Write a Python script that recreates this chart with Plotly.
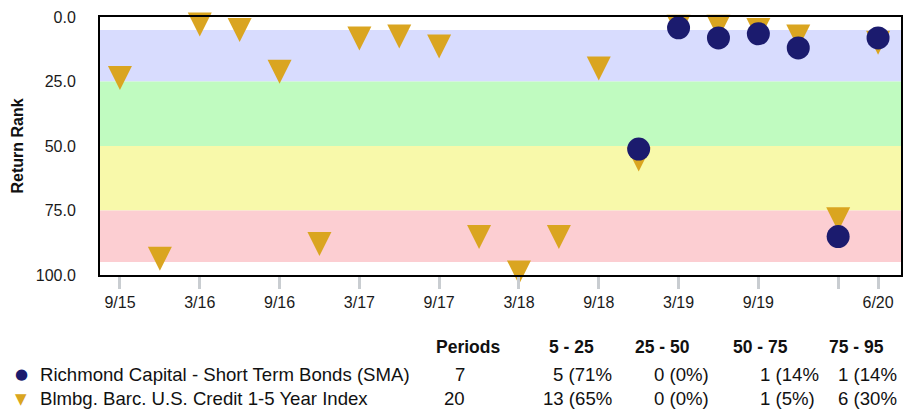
import plotly.graph_objects as go

# quarter-end periods, oldest first
periods = ["9/15", "12/15", "3/16", "6/16", "9/16", "12/16", "3/17", "6/17", "9/17", "12/17",
           "3/18", "6/18", "9/18", "12/18", "3/19", "6/19", "9/19", "12/19", "3/20", "6/20"]

fund_name = "Richmond Capital - Short Term Bonds (SMA)"
bench_name = "Blmbg. Barc. U.S. Credit 1-5 Year Index"

fund_rank = [None, None, None, None, None, None, None, None, None, None,
             None, None, None, 51.2, 4.2, 8.1, 6.5, 12.0, 85.1, 8.1]
bench_rank = [23.6, 93.7, 2.9, 5.0, 21.2, 88.0, 8.3, 7.6, 11.4, 85.3,
              99.0, 85.3, 20.0, 55.2, 3.8, 3.8, 5.0, 7.6, 78.4, 10.0]

tick_periods = ["9/15", "3/16", "9/16", "3/17", "9/17", "3/18", "9/18", "3/19", "9/19", "3/20", "6/20"]
tick_text = ["9/15", "3/16", "9/16", "3/17", "9/17", "3/18", "9/18", "3/19", "9/19", "", "6/20"]

band_low = [5, 25, 50, 75]
band_high = [25, 50, 75, 95]
band_colors = ["#D8DCFE", "#C0FBC0", "#F8F9AA", "#FCCED2"]

table_header = ["Periods", "5 - 25", "25 - 50", "50 - 75", "75 - 95"]
fund_row = ["7", "5 (71%", "0 (0%)", "1 (14%", "1 (14%"]
bench_row = ["20", "13 (65%", "0 (0%)", "1 (5%)", "6 (30%"]

FUND_COLOR = "#1b1b6e"
BENCH_COLOR = "#DAA520"
FONT = "Liberation Sans, Arial, sans-serif"

W, H = 906, 410
L, R, T, B = 100, 3, 17, 135
PW, PH = W - L - R, H - T - B


def px_x(x):
    return (x - L) / PW


def px_y(y):
    return (H - B - y) / PH


fig = go.Figure()

fig.add_trace(go.Scatter(
    x=periods, y=bench_rank, mode="markers", name=bench_name,
    marker=dict(symbol="arrow-down", size=24, standoff=12, color=BENCH_COLOR, line=dict(width=0)),
    cliponaxis=False, showlegend=False,
))
fig.add_trace(go.Scatter(
    x=periods, y=fund_rank, mode="markers", name=fund_name,
    marker=dict(symbol="circle", size=23, color=FUND_COLOR, line=dict(width=0)),
    cliponaxis=False, showlegend=False,
))

# percentile bands
for lo, hi, c in zip(band_low, band_high, band_colors):
    fig.add_shape(type="rect", xref="paper", yref="y", x0=0, x1=1, y0=lo, y1=hi,
                  fillcolor=c, line=dict(width=0), layer="below")

# table under the chart
ROW_Y = [347, 374, 398]
anns = []
header_x = [503, 597, 693, 792, 888]
for txt, x in zip(table_header, header_x):
    anns.append(dict(text="<b>%s</b>" % txt, x=px_x(x), y=px_y(ROW_Y[0]), xanchor="right",
                     font=dict(size=17.5, color="#111", family=FONT)))

cell_x = [(468, "right"), (615, "right"), (653, "left"), (760, "left"), (838, "left")]
for row, yy in [(fund_row, ROW_Y[1]), (bench_row, ROW_Y[2])]:
    for txt, (x, anc) in zip(row, cell_x):
        anns.append(dict(text=txt, x=px_x(x), y=px_y(yy), xanchor=anc))

anns.append(dict(text="●", x=px_x(21), y=px_y(ROW_Y[1]), xanchor="center",
                 font=dict(color=FUND_COLOR, size=15, family="DejaVu Sans")))
anns.append(dict(text=fund_name, x=px_x(38), y=px_y(ROW_Y[1]), xanchor="left"))
anns.append(dict(text="▼", x=px_x(21), y=px_y(ROW_Y[2] + 1), xanchor="center",
                 font=dict(color=BENCH_COLOR, size=15, family="DejaVu Sans")))
anns.append(dict(text=bench_name, x=px_x(38), y=px_y(ROW_Y[2]), xanchor="left"))

for a in anns:
    a.update(xref="paper", yref="paper", yanchor="middle", showarrow=False)
    a.setdefault("font", dict(size=18.6, color="#111", family=FONT))

fig.update_layout(
    width=W, height=H,
    margin=dict(l=L, r=R, t=T, b=B),
    paper_bgcolor="white", plot_bgcolor="white",
    font=dict(family=FONT, size=16, color="#1a1a1a"),
    annotations=anns,
    xaxis=dict(
        type="category", categoryorder="array", categoryarray=periods,
        range=[-0.5, 19.575],
        tickmode="array", tickvals=tick_periods, ticktext=tick_text,
        ticks="outside", ticklen=12, tickwidth=3, tickcolor="#c9cdd1",
        showline=True, linecolor="black", linewidth=2, mirror=True,
        showgrid=False, zeroline=False, ticklabelstandoff=0,
    ),
    yaxis=dict(
        range=[100, 0], tickmode="array", tickvals=[0, 25, 50, 75, 100], tickformat=".1f",
        ticks="outside", ticklen=12, tickwidth=3, tickcolor="rgba(0,0,0,0)",
        showline=True, linecolor="black", linewidth=2, mirror=True,
        showgrid=False, zeroline=False, ticklabelstandoff=7,
        title=dict(text="<b>Return Rank</b>", font=dict(size=16, color="#111"), standoff=8),
    ),
    yaxis2=dict(
        overlaying="y", side="left", range=[100, 0], tickmode="array", tickvals=[25, 50, 75],
        ticks="outside", ticklen=12, tickwidth=3, tickcolor="#c9cdd1",
        showticklabels=False, showgrid=False, zeroline=False, showline=False,
    ),
)

# drop the default page margin so the figure sits at the window's corner
fig.write_html("out.html", config={"displayModeBar": False},
               post_script="document.body.style.margin='0';document.body.style.overflow='hidden';")
